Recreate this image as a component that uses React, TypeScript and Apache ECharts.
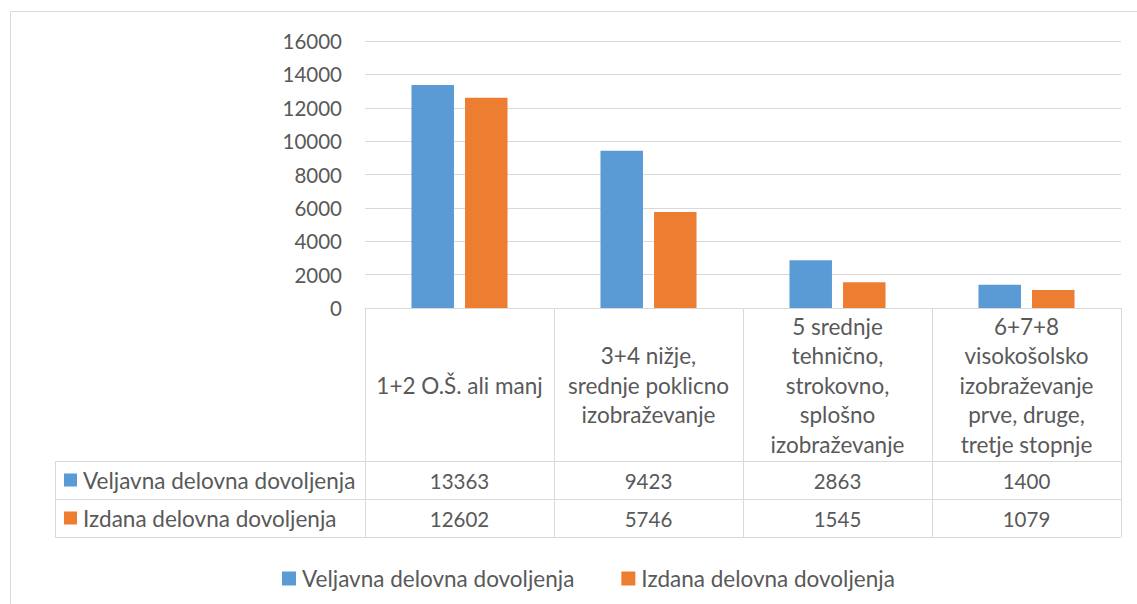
import React, { useEffect, useRef } from "react";
import * as echarts from "echarts";

const categories = [
  "1+2 O.Š. ali manj",
  "3+4 nižje,\nsrednje poklicno\nizobraževanje",
  "5 srednje\ntehnično,\nstrokovno,\nsplošno\nizobraževanje",
  "6+7+8\nvisokošolsko\nizobraževanje\nprve, druge,\ntretje stopnje",
];
const seriesNames = ["Veljavna delovna dovoljenja", "Izdana delovna dovoljenja"];
const veljavna = [13363, 9423, 2863, 1400];
const izdana = [12602, 5746, 1545, 1079];
const yTicks = { min: 0, max: 16000, interval: 2000 };
const colors = ["#5B9BD5", "#ED7D31"];

const W = 1137;
const H = 604;
const GL = 365;
const GR = 1121;
const GT = 41;
const GB = 308;
const ROW1 = 461;
const ROW2 = 499;
const ROW3 = 537;
const TL = 55;
const FONT = "Lato";
const TXT = "#595959";
const LINE = "#D9D9D9";
const TEXT_SIZE = 22.5;
const NUM_SIZE = 20.5;

export default function App() {
  const ref = useRef<HTMLDivElement>(null);
  useEffect(() => {
    if (!ref.current) return;
    const chart = echarts.init(ref.current, undefined, { renderer: "svg" });
    const n = categories.length;
    const band = (GR - GL) / n;
    const graphics: any[] = [];
    graphics.push({
      type: "rect",
      shape: { x: 10.5, y: 11.5, width: 1300, height: 800 },
      style: { fill: "none", stroke: LINE, lineWidth: 1 },
      silent: true,
    });
    const hline = (x1: number, x2: number, y: number) =>
      graphics.push({
        type: "line",
        shape: { x1, y1: y + 0.5, x2, y2: y + 0.5 },
        style: { stroke: LINE, lineWidth: 1 },
        silent: true,
      });
    const vline = (x: number, y1: number, y2: number) =>
      graphics.push({
        type: "line",
        shape: { x1: x + 0.5, y1, x2: x + 0.5, y2 },
        style: { stroke: LINE, lineWidth: 1 },
        silent: true,
      });
    for (let i = 0; i <= n; i++) vline(Math.round(GL + i * band), GB, ROW3);
    vline(TL, ROW1, ROW3);
    hline(TL, GR, ROW1);
    hline(TL, GR, ROW2);
    hline(TL, GR, ROW3);
    const rowYs = [(ROW1 + ROW2) / 2 + 0.5, (ROW2 + ROW3) / 2 + 0.5];
    seriesNames.forEach((name, si) => {
      graphics.push({
        type: "rect",
        shape: { x: 64, y: rowYs[si] - 7, width: 13, height: 13 },
        style: { fill: colors[si] },
        silent: true,
      });
      graphics.push({
        type: "text",
        x: 83,
        y: rowYs[si],
        style: {
          text: name,
          fill: TXT,
          font: `${TEXT_SIZE}px ${FONT}`,
          verticalAlign: "middle",
          align: "left",
        },
        silent: true,
      });
    });

    const valueAxis = (offset: number, vals: number[]) => ({
      type: "category",
      data: vals.map(String),
      position: "bottom",
      offset,
      axisLine: { show: false },
      axisTick: { show: false },
      splitLine: { show: false },
      axisLabel: {
        color: TXT,
        fontFamily: FONT,
        fontSize: NUM_SIZE,
        margin: 0,
        verticalAlign: "middle",
        interval: 0,
      },
    });

    chart.setOption({
      animation: false,
      grid: { left: GL, right: W - GR, top: GT, bottom: H - GB, containLabel: false },
      xAxis: [
        {
          type: "category",
          data: categories,
          axisLine: { show: true, lineStyle: { color: LINE } },
          axisTick: { show: false },
          axisLabel: {
            color: TXT,
            fontFamily: FONT,
            fontSize: TEXT_SIZE,
            lineHeight: 29.5,
            margin: 77,
            verticalAlign: "middle",
            align: "center",
            interval: 0,
          },
        },
        valueAxis(rowYs[0] - GB, veljavna),
        valueAxis(rowYs[1] - GB, izdana),
      ],
      yAxis: {
        type: "value",
        min: yTicks.min,
        max: yTicks.max,
        interval: yTicks.interval,
        axisLine: { show: false },
        axisTick: { show: false },
        splitLine: { lineStyle: { color: LINE } },
        axisLabel: {
          color: TXT,
          fontFamily: FONT,
          fontSize: NUM_SIZE,
          margin: 23,
          formatter: (v: number) => String(v),
        },
      },
      legend: {
        left: 277,
        top: 562,
        itemWidth: 14,
        itemHeight: 14,
        itemGap: 47,
        icon: "rect",
        textStyle: { color: TXT, fontFamily: FONT, fontSize: TEXT_SIZE, padding: [0, 0, 0, 1] },
        data: seriesNames,
      },
      series: [
        {
          name: seriesNames[0],
          type: "bar",
          data: veljavna,
          barWidth: 42.5,
          barGap: "26%",
          itemStyle: { color: colors[0] },
        },
        {
          name: seriesNames[1],
          type: "bar",
          data: izdana,
          barWidth: 42.5,
          barGap: "26%",
          itemStyle: { color: colors[1] },
        },
      ],
      graphic: graphics,
    });
    return () => chart.dispose();
  }, []);
  return (
    <div
      ref={ref}
      style={{ position: "fixed", left: 0, top: 0, width: W, height: H, background: "#fff" }}
    />
  );
}
